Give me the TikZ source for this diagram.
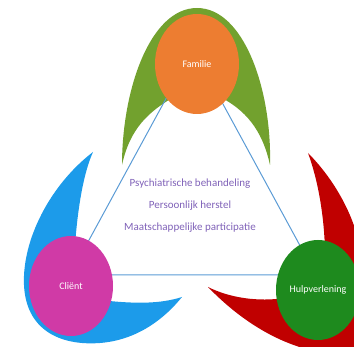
\documentclass[tikz,border=0pt]{standalone}
\usepackage{fontspec}
\setmainfont{Carlito}
\usepackage{tikz}
\usetikzlibrary{positioning,shapes.geometric}
\definecolor{famc}{HTML}{ED7D31}
\definecolor{archc}{HTML}{72A12E}
\definecolor{clic}{HTML}{D03AA6}
\definecolor{tailc}{HTML}{1C9BEA}
\definecolor{hulpc}{HTML}{1E8A1E}
\definecolor{flamec}{HTML}{C00000}
\definecolor{linec}{HTML}{5B9BD5}
\definecolor{txtc}{HTML}{8062B8}
\tikzset{
  party/.style={ellipse,minimum width=84pt,minimum height=100pt,inner sep=0pt,text=white,font=\fontsize{10}{12}\selectfont},
  side/.style={draw=linec,line width=1pt},
  goal/.style={text=txtc,align=center,font=\fontsize{11}{22}\selectfont}
}

\begin{document}
\begin{tikzpicture}[x=1pt,y=-1pt]
\useasboundingbox (0,0) rectangle (354,347);
\clip (0,0) rectangle (354,347);
\fill[archc] (122,165) .. controls (122,90) and (150,8) .. (197,8) .. controls (244,8) and (272,90) .. (270,165) .. controls (262,128) and (244,110) .. (222,98) -- (172,98) .. controls (149,112) and (130,128) .. cycle;
\fill[tailc] (93,152) .. controls (50,185) and (22,240) .. (24,285) .. controls (26,330) and (60,346) .. (100,343) .. controls (138,340) and (165,318) .. (182,297) .. controls (160,304) and (135,304) .. (100,300) -- (75,245) .. controls (78,205) and (84,172) .. cycle;
\fill[flamec] (308,153) .. controls (335,180) and (362,225) .. (362,270) -- (362,352) -- (310,350) .. controls (270,340) and (235,315) .. (208,287) .. controls (230,298) and (258,302) .. (285,298) -- (325,250) .. controls (324,215) and (318,180) .. cycle;
\coordinate (famv) at (193,49);
\coordinate (cliv) at (70,275);
\coordinate (hulpv) at (316,275);
\draw[side] (famv) -- (cliv) -- (hulpv) -- cycle;
\node[party,fill=famc] (fam) at (197,64) {Familie};
\node[party,fill=clic] (cli) at (71,286) {Cliënt};
\node[party,fill=hulpc] (hulp) at (318,290) {Hulpverlening};
\node[goal] (goals) at (190,206) {Psychiatrische behandeling\\Persoonlijk herstel\\Maatschappelijke participatie};
\end{tikzpicture}
\end{document}
